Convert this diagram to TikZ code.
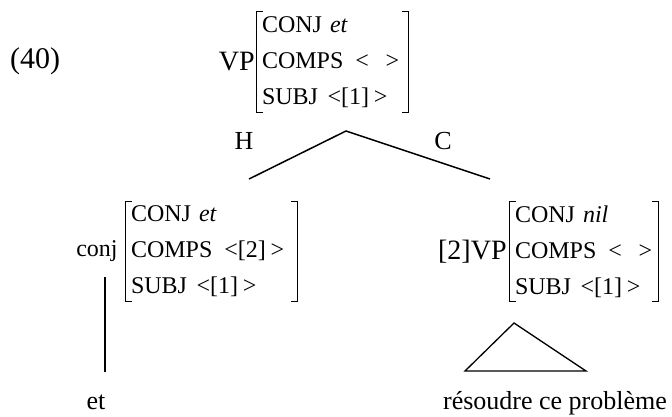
\documentclass[tikz,border=0pt]{standalone}
\usepackage{fontspec}
\setmainfont{Liberation Serif}
\usetikzlibrary{positioning}
\newcommand{\avmbrk}[1]{%
  \draw[brk] ([xshift=6pt]#1.north west) -- (#1.north west) -- (#1.south west) -- ([xshift=6pt]#1.south west);
  \draw[brk] ([xshift=-6pt]#1.north east) -- (#1.north east) -- (#1.south east) -- ([xshift=-6pt]#1.south east);}

\begin{document}
\begin{tikzpicture}[x=1pt, y=1pt,
  avm/.style={align=left, inner xsep=5pt, inner ysep=0pt, minimum height=100pt, font=\fontsize{24}{36}\selectfont},
  cat/.style={inner sep=0pt, font=\fontsize{28}{30}\selectfont},
  word/.style={inner sep=0pt, font=\fontsize{26}{28}\selectfont},
  brk/.style={line width=1pt},
  branch/.style={line width=1.5pt}
]
\useasboundingbox (0,0) rectangle (672,-416);

\node[cat, anchor=base west, font=\fontsize{30}{32}\selectfont] (exnum) at (10,-68) {(40)};

% mother
\node[avm, text width=141pt] (topavm) at (332.5,-62) {CONJ \textit{et}\\COMPS\hspace{0.5em}<\hspace{0.7em}>\\SUBJ\hspace{0.4em}<[1]\hspace{0.2em}>};
\node[cat, left=2pt of topavm] (vp) {VP};
\avmbrk{topavm}

% daughters
\node[avm, text width=161pt] (leftavm) at (211.5,-251.5) {CONJ \textit{et}\\COMPS\hspace{0.5em}<[2]\hspace{0.2em}>\\SUBJ\hspace{0.4em}<[1]\hspace{0.2em}>};
\node[word, font=\fontsize{24}{26}\selectfont, left=8pt of leftavm] (conj) {conj};
\avmbrk{leftavm}

\node[avm, text width=138pt] (rightavm) at (584,-251.5) {CONJ \textit{nil}\\COMPS\hspace{0.5em}<\hspace{0.7em}>\\SUBJ\hspace{0.4em}<[1]\hspace{0.2em}>};
\node[cat, left=3pt of rightavm] (vp2) {[2]VP};
\avmbrk{rightavm}

\coordinate (apex) at (346,-131);
\coordinate (hleg) at (249,-179);
\coordinate (cleg) at (490,-179);
\draw[branch] (hleg) -- (apex) -- (cleg);
\node[word] (hlab) at (244,-141) {H};
\node[word] (clab) at (443,-141) {C};

% leaves
\node[word, anchor=base] (et) at (96,-409) {et};
\node[word, anchor=base] (vpwords) at (555,-409) {résoudre ce problème};
\coordinate (ltop) at (105,-277);
\coordinate (lbot) at (105,-372);
\draw[line width=1.3pt] (ltop) -- (lbot);

\coordinate (tritop) at (514,-323);
\coordinate (trileft) at (465,-371);
\coordinate (triright) at (586,-371);
\draw[line width=1.3pt] (tritop) -- (trileft) -- (triright) -- cycle;

\end{tikzpicture}
\end{document}
